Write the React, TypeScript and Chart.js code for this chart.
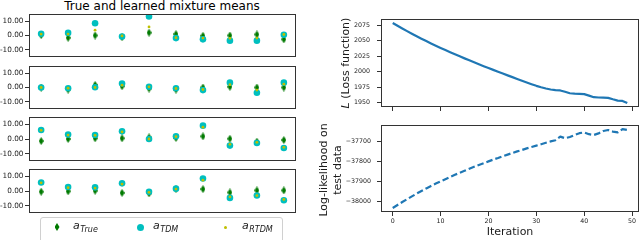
import React, { useEffect, useRef } from 'react';
import { Chart, registerables } from 'chart.js';

Chart.register(...registerables);

const W = 640;
const H = 240;
const FONT = "'DejaVu Sans', 'Liberation Sans', sans-serif";

// ---------- data ----------
const components = [0, 1, 2, 3, 4, 5, 6, 7, 8, 9];
const meanTicks = [-10, 0, 10];

const true1 = [0.3, -1.6, 0, -1.2, 2.0, 1.0, -0.2, 0, 0.7, -2.7];
const tdm1 = [1.2, 1.8, 8.5, -0.7, 13.3, -1.8, -2.7, -3.6, -3.6, 0.5];
const rtdm1 = [1.0, 1.0, 3.7, -0.3, 6.0, -1.5, -1.8, -2.0, -1.8, 0.7];

const true2 = [0, -1.4, 1.8, 0.9, -0.7, -1.4, 0, 0.5, 0, 0];
const tdm2 = [0, -0.5, 0.2, 2.8, 0.5, -0.5, -1.8, 3.4, -3.7, 3.4];
const rtdm2 = [0, -0.5, 0, 1.6, 0.5, -0.7, -1.4, 2.0, -1.8, 2.3];

const true3 = [-1.4, 0, 0.5, 0.5, 1.1, 0.7, 1.8, 0.2, -1.8, -0.7];
const tdm3 = [6.1, 3.0, 2.7, 5.2, 0, 1.8, 9.1, -4.5, -2.7, -6.1];
const rtdm3 = [5.9, 2.7, 2.5, 4.8, 0, 1.6, 8.0, -3.6, -2.3, -5.7];

const true4 = [-0.5, -0.2, 0.2, -1.3, -1.6, 1.3, 1.3, -1.0, 0.4, 0.4];
const tdm4 = [5.8, 2.7, 2.5, 5.2, -0.5, 1.6, 8.5, -4.7, -3.1, -6.3];
const rtdm4 = [5.6, 2.2, 2.0, 4.7, -0.9, 1.3, 7.4, -4.0, -3.1, -5.8];

const seriesNames = ['True', 'TDM', 'RTDM'];

const iterations = [
  0, 1, 2, 3, 4, 5, 6, 7, 8, 9, 10, 11, 12, 13, 14, 15, 16, 17, 18, 19, 20, 21, 22, 23, 24,
  25, 26, 27, 28, 29, 30, 31, 32, 33, 34, 35, 36, 37, 38, 39, 40, 41, 42, 43, 44, 45, 46, 47, 48, 49,
];
const iterTicks = [0, 10, 20, 30, 40, 50];

const loss = [
  2079.0, 2074.5, 2070.1, 2065.8, 2061.6, 2057.5, 2053.5, 2049.6, 2045.8, 2042.1,
  2038.5, 2035.0, 2031.6, 2028.2, 2024.8, 2021.5, 2018.3, 2015.1, 2011.9, 2008.8,
  2005.8, 2002.8, 1999.8, 1996.8, 1993.9, 1991.0, 1988.1, 1985.2, 1982.4, 1979.6,
  1976.9, 1974.6, 1972.6, 1970.9, 1969.8, 1969.4, 1967.2, 1964.8, 1964.1, 1963.8,
  1963.4, 1961.0, 1958.4, 1957.9, 1957.7, 1957.4, 1955.0, 1952.9, 1952.4, 1949.0,
];
const lossTicks = [1950, 1975, 2000, 2025, 2050, 2075];

const logLik = [
  -38035, -38020, -38005, -37991, -37977, -37963, -37950, -37937, -37925, -37913,
  -37902, -37891, -37880, -37869, -37859, -37849, -37839, -37829, -37820, -37811,
  -37802, -37793, -37785, -37776, -37768, -37760, -37752, -37745, -37737, -37730,
  -37723, -37716, -37709, -37702, -37696, -37678, -37686, -37680, -37670, -37661,
  -37657, -37666, -37670, -37662, -37650, -37645, -37653, -37657, -37641, -37645,
];
const llTicks = [-38000, -37900, -37800, -37700];

// ---------- colours ----------
const GREEN = '#007a00';
const CYAN = '#00bfbf';
const YELLOW = '#bfbf00';
const BLUE = '#1f77b4';
const FRAME = '#333333';
const TEXT = '#1a1a1a';

const framePlugin = {
  id: 'frame',
  afterDatasetsDraw(chart: any) {
    const { ctx, chartArea: a } = chart;
    ctx.save();
    ctx.strokeStyle = FRAME;
    ctx.lineWidth = 1;
    const l = Math.round(a.left);
    const t = Math.round(a.top);
    const r = Math.round(a.right);
    const b = Math.round(a.bottom);
    ctx.strokeRect(l + 0.5, t + 0.5, r - l - 1, b - t - 1);
    ctx.restore();
  },
};

function makeDiamond(): HTMLCanvasElement {
  const c = document.createElement('canvas');
  c.width = 5;
  c.height = 8;
  const g = c.getContext('2d')!;
  g.fillStyle = GREEN;
  g.beginPath();
  g.moveTo(2.5, 0);
  g.lineTo(5, 4);
  g.lineTo(2.5, 8);
  g.lineTo(0, 4);
  g.closePath();
  g.fill();
  return c;
}

const pts = (xs: number[], ys: number[]) => xs.map((x, i) => ({ x, y: ys[i] }));

function meanConfig(top: number, bottom: number, tv: number[], tdm: number[], rtdm: number[]) {
  const diamond = makeDiamond();
  return {
    type: 'scatter',
    data: {
      datasets: [
        {
          label: seriesNames[0],
          data: pts(components, tv),
          pointStyle: diamond,
          pointRadius: 3,
          pointBackgroundColor: GREEN,
          pointBorderWidth: 0,
          order: 3,
        },
        {
          label: seriesNames[1],
          data: pts(components, tdm),
          pointStyle: 'circle',
          pointRadius: 3.3,
          pointBackgroundColor: CYAN,
          pointBorderWidth: 0,
          order: 2,
        },
        {
          label: seriesNames[2],
          data: pts(components, rtdm),
          pointStyle: 'circle',
          pointRadius: 1.4,
          pointBackgroundColor: YELLOW,
          pointBorderWidth: 0,
          order: 1,
        },
      ],
    },
    options: {
      responsive: false,
      animation: false,
      events: [],
      layout: { padding: { left: 0, top, right: W - 296, bottom: H - bottom } },
      plugins: { legend: { display: false }, tooltip: { enabled: false } },
      scales: {
        x: { type: 'linear', min: -0.45, max: 9.45, display: false },
        y: {
          type: 'linear',
          min: -15,
          max: 15,
          afterBuildTicks: (ax: any) => {
            ax.ticks = meanTicks.map((v) => ({ value: v }));
          },
          afterFit: (ax: any) => {
            ax.width = 29;
          },
          ticks: {
            callback: (v: any) => Number(v).toFixed(2),
            font: { family: FONT, size: 7.3 },
            color: TEXT,
            padding: 1.5,
          },
          grid: { drawOnChartArea: false, drawTicks: true, tickLength: 4, color: FRAME },
          border: { display: false },
        },
      },
    },
    plugins: [framePlugin],
  };
}

const minus = (v: number) => (v < 0 ? '\u2212' + String(Math.abs(v)) : String(v));

function lineConfig(
  top: number,
  bottom: number,
  ys: number[],
  yMin: number,
  yMax: number,
  yTicks: number[],
  dashed: boolean,
  showX: boolean,
  yPad: number
) {
  return {
    type: 'line',
    data: {
      datasets: [
        {
          data: pts(iterations, ys),
          borderColor: BLUE,
          borderWidth: 2.2,
          borderDash: dashed ? [6.5, 3] : [],
          borderJoinStyle: 'round',
          pointRadius: 0,
          tension: 0,
          fill: false,
        },
      ],
    },
    options: {
      responsive: false,
      animation: false,
      events: [],
      layout: { padding: { left: 381 - 50, top, right: W - 639, bottom: showX ? 0 : H - bottom - 8 } },
      plugins: { legend: { display: false }, tooltip: { enabled: false } },
      scales: {
        x: {
          type: 'linear',
          min: -2.45,
          max: 51.45,
          afterBuildTicks: (ax: any) => {
            ax.ticks = iterTicks.map((v) => ({ value: v }));
          },
          afterFit: (ax: any) => {
            ax.height = showX ? H - bottom : 8;
          },
          ticks: {
            callback: (v: any) => (showX ? String(v) : ''),
            font: { family: FONT, size: 6.3 },
            color: TEXT,
            padding: 1.5,
            maxRotation: 0,
            autoSkip: false,
          },
          grid: { drawOnChartArea: false, drawTicks: true, tickLength: 4, color: FRAME },
          border: { display: false },
          title: showX
            ? {
                display: true,
                text: 'Iteration',
                font: { family: FONT, size: 11 },
                color: TEXT,
                padding: { top: 0, bottom: 1 },
              }
            : { display: false },
        },
        y: {
          type: 'linear',
          min: yMin,
          max: yMax,
          afterBuildTicks: (ax: any) => {
            ax.ticks = yTicks.map((v) => ({ value: v }));
          },
          afterFit: (ax: any) => {
            ax.width = 50;
          },
          ticks: {
            callback: (v: any) => minus(Number(v)),
            font: { family: FONT, size: 6.3 },
            color: TEXT,
            padding: yPad,
          },
          grid: { drawOnChartArea: false, drawTicks: true, tickLength: 4, color: FRAME },
          border: { display: false },
        },
      },
    },
    plugins: [framePlugin],
  };
}

function ChartCanvas({ make }: { make: () => any }) {
  const ref = useRef<HTMLCanvasElement>(null);
  useEffect(() => {
    const chart = new Chart(ref.current as HTMLCanvasElement, make());
    return () => chart.destroy();
  }, []);
  return (
    <canvas
      ref={ref}
      width={W}
      height={H}
      style={{ position: 'absolute', left: 0, top: 0, width: W, height: H }}
    />
  );
}

function LegendLabel({ sub, left }: { sub: string; left: number }) {
  return (
    <div
      style={{
        position: 'absolute',
        left,
        top: 219,
        font: `italic 11px ${FONT}`,
        lineHeight: '13px',
        color: TEXT,
        whiteSpace: 'nowrap',
      }}
    >
      a
      <span style={{ fontSize: 8, position: 'relative', top: 2.5, marginLeft: 0.5 }}>{sub}</span>
    </div>
  );
}

export default function App() {
  return (
    <div
      style={{
        position: 'fixed',
        left: 0,
        top: 0,
        width: W,
        height: H,
        overflow: 'hidden',
        background: '#ffffff',
        fontFamily: FONT,
      }}
    >
      <div
        style={{
          position: 'absolute',
          left: 29,
          width: 266,
          top: -1,
          textAlign: 'center',
          font: `12px ${FONT}`,
          lineHeight: '14px',
          color: '#000',
          whiteSpace: 'nowrap',
        }}
      >
        True and learned mixture means
      </div>

      <ChartCanvas make={() => meanConfig(14, 57, true1, tdm1, rtdm1)} />
      <ChartCanvas make={() => meanConfig(66, 109, true2, tdm2, rtdm2)} />
      <ChartCanvas make={() => meanConfig(117, 161, true3, tdm3, rtdm3)} />
      <ChartCanvas make={() => meanConfig(169, 213, true4, tdm4, rtdm4)} />

      <ChartCanvas make={() => lineConfig(19, 107, loss, 1942.5, 2085.5, lossTicks, false, false, 7)} />
      <ChartCanvas make={() => lineConfig(125, 212, logLik, -38055, -37620, llTicks, true, true, 6)} />

      <div
        style={{
          position: 'absolute',
          left: 345,
          top: 63,
          transform: 'translate(-50%, -50%) rotate(-90deg)',
          font: `11px ${FONT}`,
          lineHeight: '13px',
          whiteSpace: 'nowrap',
          color: TEXT,
        }}
      >
        <i>L</i> (Loss function)
      </div>
      <div
        style={{
          position: 'absolute',
          left: 331,
          top: 170,
          transform: 'translate(-50%, -50%) rotate(-90deg)',
          font: `11px ${FONT}`,
          lineHeight: '14px',
          whiteSpace: 'nowrap',
          textAlign: 'center',
          color: TEXT,
        }}
      >
        Log-likelihood on
        <br />
        test data
      </div>

      <div
        style={{
          position: 'absolute',
          left: 40,
          top: 217,
          width: 243,
          height: 30,
          boxSizing: 'border-box',
          border: '1px solid #d0d0d0',
          borderRadius: 3,
          background: 'rgba(255,255,255,0.8)',
        }}
      />
      <div
        style={{
          position: 'absolute',
          left: 54.5,
          top: 223,
          width: 5,
          height: 8,
          background: GREEN,
          clipPath: 'polygon(50% 0, 100% 50%, 50% 100%, 0 50%)',
        }}
      />
      <LegendLabel sub={seriesNames[0]} left={73} />
      <div
        style={{
          position: 'absolute',
          left: 136.5,
          top: 223.5,
          width: 7,
          height: 7,
          borderRadius: '50%',
          background: CYAN,
        }}
      />
      <LegendLabel sub={seriesNames[1]} left={153} />
      <div
        style={{
          position: 'absolute',
          left: 223.5,
          top: 225.5,
          width: 3,
          height: 3,
          borderRadius: '50%',
          background: YELLOW,
        }}
      />
      <LegendLabel sub={seriesNames[2]} left={242} />
    </div>
  );
}
